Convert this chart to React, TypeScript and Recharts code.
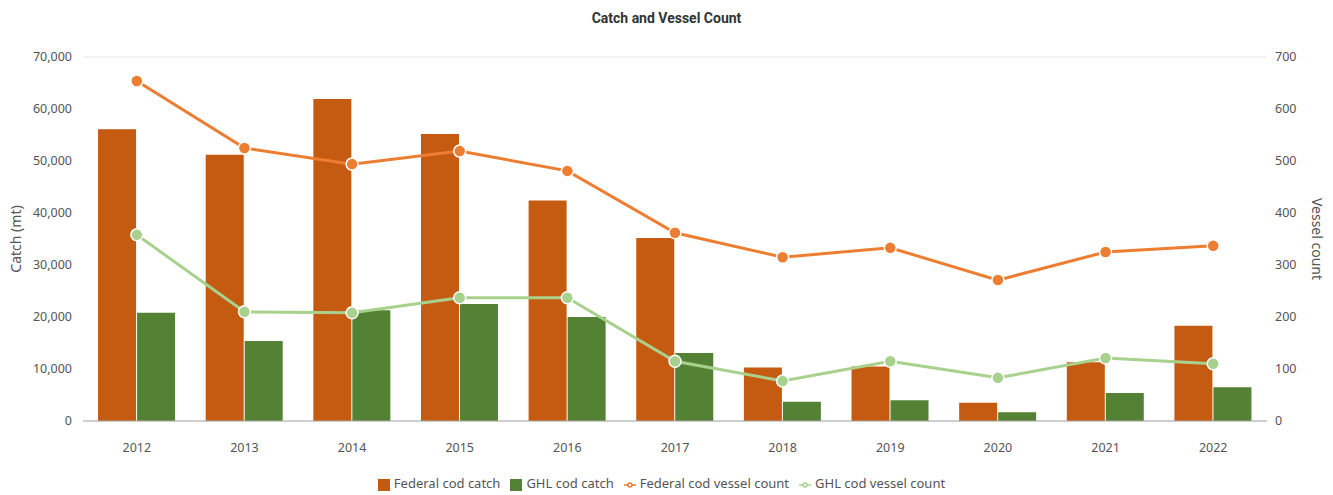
import {
  Bar,
  CartesianGrid,
  ComposedChart,
  Legend,
  Line,
  XAxis,
  YAxis,
} from 'recharts';

const years = ['2012', '2013', '2014', '2015', '2016', '2017', '2018', '2019', '2020', '2021', '2022'];
const federalCatch = [56100, 51200, 61900, 55200, 42400, 35200, 10300, 10500, 3500, 11300, 18300];
const ghlCatch = [20800, 15400, 21300, 22500, 20000, 13100, 3700, 4000, 1700, 5400, 6500];
const federalVessels = [654, 525, 494, 519, 481, 362, 315, 333, 271, 325, 337];
const ghlVessels = [358, 210, 208, 237, 237, 115, 77, 115, 83, 121, 110];

const catchTicks = [0, 10000, 20000, 30000, 40000, 50000, 60000, 70000];
const vesselTicks = [0, 100, 200, 300, 400, 500, 600, 700];
const seriesNames = ['Federal cod catch', 'GHL cod catch', 'Federal cod vessel count', 'GHL cod vessel count'];

const data = years.map((year, i) => ({
  year,
  federalCatch: federalCatch[i],
  ghlCatch: ghlCatch[i],
  federalVessels: federalVessels[i],
  ghlVessels: ghlVessels[i],
}));

const font = '"Noto Sans", "Open Sans", sans-serif';
const tickStyle = { fill: '#555', fontSize: 12.5, fontFamily: font };

export default function App() {
  return (
    <div style={{ position: 'absolute', left: 0, top: 0, width: 1333, height: 495, background: '#fff' }}>
      <div
        style={{
          position: 'absolute',
          top: 10,
          width: '100%',
          textAlign: 'center',
          fontFamily: '"Liberation Sans Narrow", Roboto, sans-serif',
          fontWeight: 'bold',
          fontSize: 14,
          color: '#333',
        }}
      >
        Catch and Vessel Count
      </div>
      <ComposedChart
        width={1333}
        height={495}
        data={data}
        margin={{ top: 57, right: 20, bottom: 14, left: 20 }}
        barCategoryGap="14%"
        barGap={1}
      >
        <CartesianGrid stroke="#e3e3e3" vertical={false} />
        <XAxis
          dataKey="year"
          tick={tickStyle}
          tickLine={false}
          axisLine={{ stroke: '#aaa' }}
          tickMargin={16}
          height={30}
        />
        <YAxis
          yAxisId="catch"
          width={63}
          domain={[0, 70000]}
          ticks={catchTicks}
          tickFormatter={(v: number) => v.toLocaleString('en-US')}
          tick={tickStyle}
          tickLine={false}
          axisLine={false}
          tickMargin={5}
          label={{
            value: 'Catch (mt)',
            angle: -90,
            position: 'insideLeft',
            offset: -4,
            style: { fill: '#555', fontSize: 14, fontFamily: font, textAnchor: 'middle' },
          }}
        />
        <YAxis
          yAxisId="vessels"
          orientation="right"
          width={46}
          domain={[0, 700]}
          ticks={vesselTicks}
          tick={tickStyle}
          tickLine={false}
          axisLine={false}
          tickMargin={2}
          label={{
            value: 'Vessel count',
            angle: 90,
            position: 'insideRight',
            offset: -4,
            style: { fill: '#555', fontSize: 14, fontFamily: font, textAnchor: 'middle' },
          }}
        />
        <Legend
          verticalAlign="bottom"
          height={30}
          iconSize={12}
          itemSorter={(item: { value?: string }) => seriesNames.indexOf(String(item.value))}
          wrapperStyle={{ top: 474, fontFamily: font, fontSize: 13, color: '#555' }}
          formatter={(value) => <span style={{ color: '#555' }}>{value}</span>}
        />
        <Bar
          yAxisId="catch"
          dataKey="federalCatch"
          name={seriesNames[0]}
          fill="#c55a11"
          legendType="square"
          isAnimationActive={false}
        />
        <Bar
          yAxisId="catch"
          dataKey="ghlCatch"
          name={seriesNames[1]}
          fill="#548235"
          legendType="square"
          isAnimationActive={false}
        />
        <Line
          yAxisId="vessels"
          dataKey="federalVessels"
          name={seriesNames[2]}
          stroke="#ed7d31"
          strokeWidth={3}
          dot={{ r: 6, fill: '#ed7d31', stroke: '#fff', strokeWidth: 1.5 }}
          legendType="line"
          isAnimationActive={false}
        />
        <Line
          yAxisId="vessels"
          dataKey="ghlVessels"
          name={seriesNames[3]}
          stroke="#a9d18e"
          strokeWidth={3}
          dot={{ r: 6, fill: '#a9d18e', stroke: '#fff', strokeWidth: 1.5 }}
          legendType="line"
          isAnimationActive={false}
        />
      </ComposedChart>
    </div>
  );
}
